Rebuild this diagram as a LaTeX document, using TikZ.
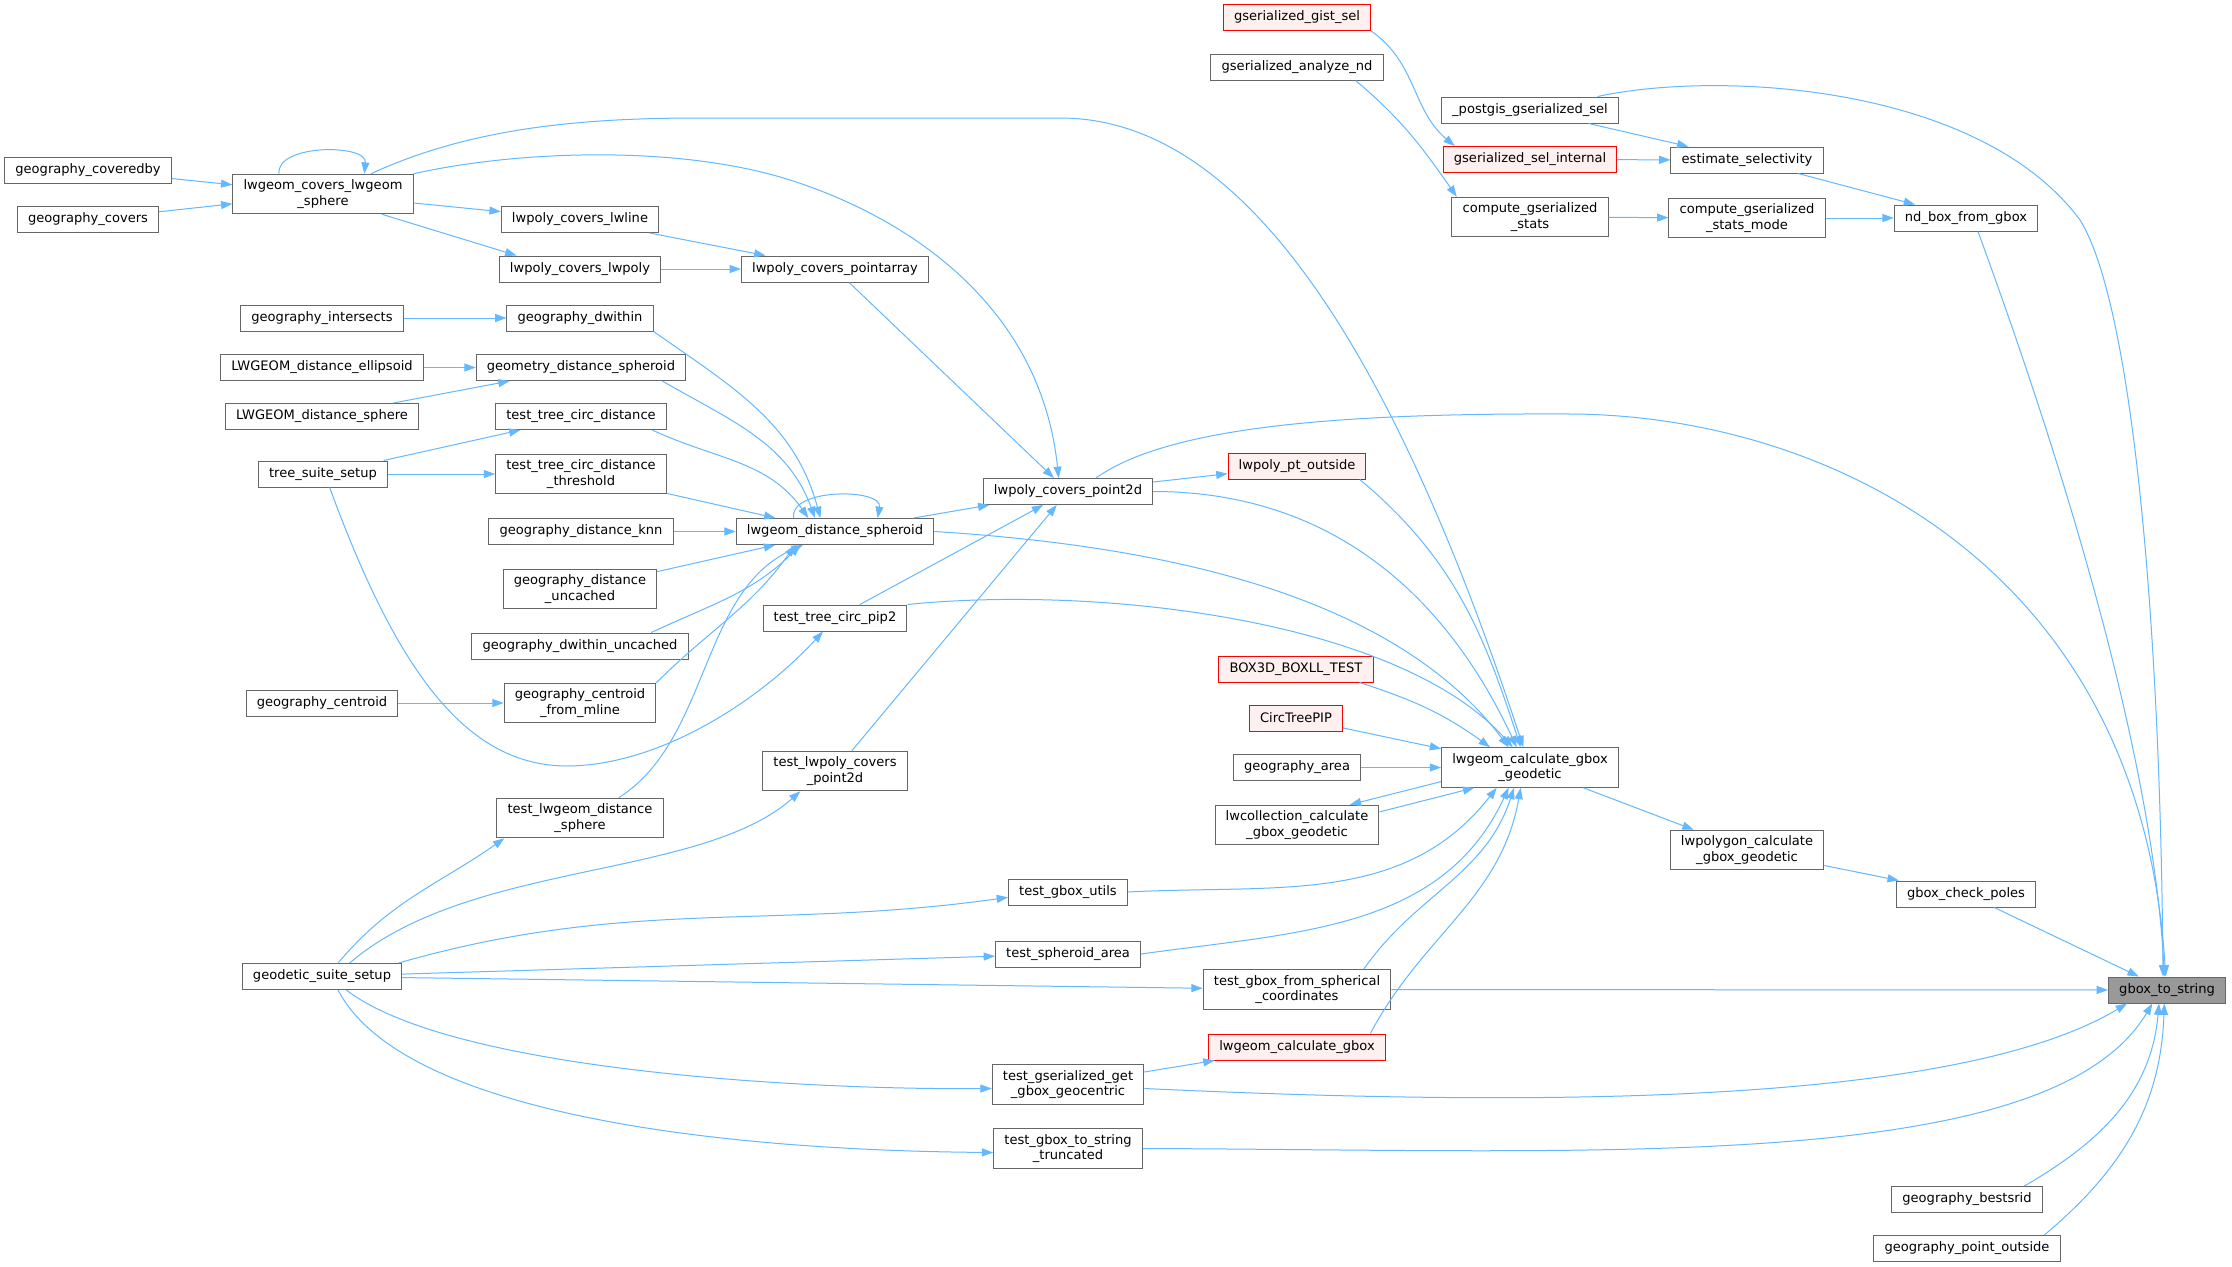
\documentclass[tikz,border=0pt]{standalone}
\usepackage{fontspec}
\setmainfont{DejaVu Sans}
\usepackage{xcolor}
\usepackage{tikz}
\usetikzlibrary{arrows.meta}

\definecolor{edgeblue}{HTML}{63B8FF}
\definecolor{boxgray}{HTML}{666666}
\definecolor{rootfill}{HTML}{999999}
\definecolor{redfill}{HTML}{FFF0F0}

\begin{document}
\begin{tikzpicture}[x=0.75pt, y=0.75pt,
		fn/.style={draw=boxgray, line width=0.75pt, fill=white, rectangle, align=center, inner xsep=8pt, inner ysep=4.2pt, minimum height=19.5pt, font=\fontsize{9.8}{11.5}\selectfont},
		fnred/.style={fn, draw=red, fill=redfill},
		fnroot/.style={fn, fill=rootfill},
		call/.style={draw=edgeblue, line width=0.75pt, -{Triangle[length=8.5pt, width=6pt]}}]
			\path[use as bounding box, fill=white] (0,0) rectangle (2232,-1267);

			\node[fnred] (gistsel) at (1297,-17.5) {gserialized\_gist\_sel};
			\node[fn] (analyzend) at (1297,-67) {gserialized\_analyze\_nd};
			\node[fn] (postgissel) at (1530,-110) {\_postgis\_gserialized\_sel};
			\node[fnred] (selinternal) at (1530,-159.5) {gserialized\_sel\_internal};
			\node[fn] (estsel) at (1747,-160) {estimate\_selectivity};
			\node[fn] (compstats) at (1530,-217) {compute\_gserialized\\\_stats};
			\node[fn] (compstatsmode) at (1747,-218) {compute\_gserialized\\\_stats\_mode};
			\node[fn] (ndbox) at (1966,-218) {nd\_box\_from\_gbox};

			\node[fn] (coveredby) at (88,-170) {geography\_coveredby};
			\node[fn] (covers) at (88,-219.5) {geography\_covers};
			\node[fn] (lwcovers) at (323,-194) {lwgeom\_covers\_lwgeom\\\_sphere};
			\node[fn] (covline) at (580,-219.5) {lwpoly\_covers\_lwline};
			\node[fn] (covpoly) at (580,-269) {lwpoly\_covers\_lwpoly};
			\node[fn] (covparr) at (835,-269) {lwpoly\_covers\_pointarray};
			\node[fn] (intersects) at (322,-318) {geography\_intersects};
			\node[fn] (gdwithin) at (580,-318) {geography\_dwithin};
			\node[fn] (distell) at (322,-367.5) {LWGEOM\_distance\_ellipsoid};
			\node[fn] (geomdist) at (581,-367.5) {geometry\_distance\_spheroid};
			\node[fn] (distsph) at (322,-416.5) {LWGEOM\_distance\_sphere};
			\node[fn] (ttcdist) at (581,-416.5) {test\_tree\_circ\_distance};
			\node[fn] (treesuite) at (323,-474) {tree\_suite\_setup};
			\node[fn] (ttcthr) at (581,-474) {test\_tree\_circ\_distance\\\_threshold};
			\node[fn] (gdknn) at (581,-531.5) {geography\_distance\_knn};
			\node[fn] (lwdist) at (835,-531.5) {lwgeom\_distance\_spheroid};
			\node[fn] (gduncached) at (580,-589) {geography\_distance\\\_uncached};
			\node[fn] (gdwuncached) at (580,-646) {geography\_dwithin\_uncached};
			\node[fn] (gcentroid) at (322,-703) {geography\_centroid};
			\node[fn] (gcmline) at (580,-703) {geography\_centroid\\\_from\_mline};
			\node[fn] (pip2) at (835,-618) {test\_tree\_circ\_pip2};
			\node[fn] (tlpcp2d) at (835,-771) {test\_lwpoly\_covers\\\_point2d};
			\node[fn] (tldsph) at (580,-818) {test\_lwgeom\_distance\\\_sphere};

			\node[fn] (covp2d) at (1068,-491.5) {lwpoly\_covers\_point2d};
			\node[fnred] (ptout) at (1297,-466) {lwpoly\_pt\_outside};
			\node[fnred] (box3d) at (1296,-669) {BOX3D\_BOXLL\_TEST};
			\node[fnred] (ctpip) at (1296,-718) {CircTreePIP};
			\node[fn] (garea) at (1297,-767.5) {geography\_area};
			\node[fn] (gbgeod) at (1530,-767.5) {lwgeom\_calculate\_gbox\\\_geodetic};
			\node[fn] (collgeod) at (1297,-825) {lwcollection\_calculate\\\_gbox\_geodetic};
			\node[fn] (polygeod) at (1747,-850) {lwpolygon\_calculate\\\_gbox\_geodetic};
			\node[fn] (poles) at (1966,-894) {gbox\_check\_poles};
			\node[fn] (tgbutils) at (1068,-892) {test\_gbox\_utils};
			\node[fn] (tsparea) at (1068,-954) {test\_spheroid\_area};
			\node[fn] (geodsuite) at (322,-976.5) {geodetic\_suite\_setup};
			\node[fn] (tgbsph) at (1297,-989.5) {test\_gbox\_from\_spherical\\\_coordinates};
			\node[fnroot] (gboxstr) at (2167,-990) {gbox\_to\_string};
			\node[fnred] (lwgbox) at (1297,-1047) {lwgeom\_calculate\_gbox};
			\node[fn] (tgsgeo) at (1068,-1084.5) {test\_gserialized\_get\\\_gbox\_geocentric};
			\node[fn] (tgbtrunc) at (1068,-1148.5) {test\_gbox\_to\_string\\\_truncated};
			\node[fn] (bestsrid) at (1967,-1199.5) {geography\_bestsrid};
			\node[fn] (ptoutside) at (1967,-1248.5) {geography\_point\_outside};

			\draw[call] (gistsel.south east) to[out=-35, in=140] ([xshift=9pt]selinternal.north west);
			\draw[call] ([xshift=-21pt]analyzend.south east) to[out=-40, in=125] ([xshift=4pt]compstats.north west);
			\draw[call] (postgissel) -- (estsel);
			\draw[call] (selinternal) -- (estsel);
			\draw[call] (estsel) -- (ndbox);
			\draw[call] (compstats) -- (compstatsmode);
			\draw[call] (compstatsmode) -- (ndbox);
			\draw[call] ([xshift=9pt]ndbox.south) .. controls (2010,-320) and (2150,-700) .. ([xshift=-2pt]gboxstr.north);
			\draw[call] ([xshift=-16pt]postgissel.north east) .. controls (1720,-70) and (1980,-85) .. (2080,-220) .. controls (2130,-300) and (2160,-600) .. ([xshift=-3pt]gboxstr.north);

			\draw[call] (coveredby) -- (lwcovers);
			\draw[call] (covers) -- (lwcovers);
			\draw[call] ([xshift=-33pt]lwcovers.north) .. controls +(-3,30) and +(3,30) .. ([xshift=31pt]lwcovers.north);
			\draw[call] (lwcovers) -- (covline);
			\draw[call] (lwcovers.-19) -- (covpoly.168);
			\draw[call] (covline) -- (covparr);
			\draw[call] (covpoly) -- (covparr);
			\draw[call] (covparr) -- (covp2d);
			\draw[call] (lwcovers.north east) .. controls (520,-150) and (680,-145) .. (790,-180) .. controls (900,-215) and (1040,-300) .. ([xshift=-7pt]covp2d.north);
			\draw[call] ([xshift=-32pt]lwcovers.north east) .. controls (470,-128) and (580,-118) .. (700,-118) -- (1060,-118) .. controls (1200,-118) and (1360,-250) .. ([xshift=-5pt]gbgeod.north);

			\draw[call] (intersects) -- (gdwithin);
			\draw[call] (gdwithin.south east) to[out=-35, in=105] ([xshift=-11pt]lwdist.north);
			\draw[call] (distell) -- (geomdist);
			\draw[call] (distsph) -- (geomdist);
			\draw[call] ([xshift=-18pt]geomdist.south east) to[out=-30, in=110] ([xshift=-15pt]lwdist.north);
			\draw[call] (treesuite) -- (ttcdist);
			\draw[call] (treesuite) -- (ttcthr);
			\draw[call] ([xshift=5pt]treesuite.south) .. controls (400,-680) and (470,-765) .. (566,-766) .. controls (660,-766) and (760,-700) .. ([xshift=-9pt]pip2.south);
			\draw[call] ([xshift=-11pt]ttcdist.south east) to[out=-25, in=125] ([xshift=-20pt]lwdist.north);
			\draw[call] (ttcthr) -- (lwdist);
			\draw[call] (gdknn) -- (lwdist);
			\draw[call] (gduncached) -- (lwdist);
			\draw[call] ([xshift=-28pt]gdwuncached.north east) to[out=25, in=-135] ([xshift=-26pt]lwdist.south);
			\draw[call] (gcmline.north east) to[out=45, in=-125] ([xshift=-30pt]lwdist.south);
			\draw[call] ([xshift=29pt]tldsph.north) .. controls (710,-740) and (700,-590) .. ([xshift=-24pt]lwdist.south);
			\draw[call] ([xshift=-31pt]lwdist.north) .. controls +(-5,30) and +(5,30) .. ([xshift=32pt]lwdist.north);
			\draw[call] (gcentroid) -- (gcmline);

			\draw[call] (lwdist) -- (covp2d);
			\draw[call] (lwdist.east) .. controls (1150,-545) and (1390,-590) .. ([xshift=-16pt]gbgeod.north);
			\draw[call] (pip2) -- (covp2d);
			\draw[call] (pip2.north east) .. controls (1100,-585) and (1400,-620) .. ([xshift=-13pt]gbgeod.north);
			\draw[call] (tlpcp2d) -- (covp2d);
			\draw[call] (covp2d) -- (ptout);
			\draw[call] ([xshift=-5pt]ptout.south east) to[out=-40, in=108] ([xshift=-7pt]gbgeod.north);
			\draw[call] (covp2d.east) to[out=0, in=115] ([xshift=-10pt]gbgeod.north);
			\draw[call] ([xshift=21pt]covp2d.north) .. controls (1170,-425) and (1350,-413) .. (1570,-414) .. controls (1820,-415) and (2140,-560) .. ([xshift=-1pt]gboxstr.north);

			\draw[call] (box3d.-12) to[out=-18, in=144] ([xshift=-30pt]gbgeod.north);
			\draw[call] (ctpip) -- (gbgeod);
			\draw[call] (garea) -- (gbgeod);
			\draw[call] (gbgeod.189) -- (collgeod.21);
			\draw[call] (collgeod.9) -- (gbgeod.200);
			\draw[call] (gbgeod) -- (polygeod);
			\draw[call] (polygeod) -- (poles);
			\draw[call] (poles) -- (gboxstr);
			\draw[call] (tgbutils.east) to[out=3, in=-128] ([xshift=-25pt]gbgeod.south);
			\draw[call] (tsparea.east) to[out=8, in=-115] ([xshift=-16pt]gbgeod.south);
			\draw[call] ([xshift=50pt]tgbsph.north) to[out=55, in=-108] ([xshift=-12pt]gbgeod.south);
			\draw[call] ([xshift=55pt]lwgbox.north) to[out=62, in=-100] ([xshift=-7pt]gbgeod.south);

			\draw[call] (tgsgeo) -- (lwgbox);
			\draw[call] (tgbsph) -- (gboxstr);
			\draw[call] ([yshift=-3pt]tgsgeo.east) .. controls (1500,-1105) and (1950,-1110) .. ([xshift=-30pt]gboxstr.south);
			\draw[call] (tgbtrunc.east) .. controls (1600,-1150) and (2050,-1175) .. ([xshift=-11pt]gboxstr.south);
			\draw[call] ([xshift=43pt]bestsrid.north) to[out=30, in=-95] ([xshift=-6pt]gboxstr.south);
			\draw[call] ([xshift=58pt]ptoutside.north) to[out=40, in=-92] ([xshift=-2pt]gboxstr.south);

			\draw[call] (geodsuite.40) to[out=50, in=-145] (tldsph.195);
			\draw[call] (geodsuite.26) .. controls (470,-860) and (700,-880) .. ([xshift=-26pt]tlpcp2d.south);
			\draw[call] (geodsuite.10) to[out=16, in=188] ([yshift=-4pt]tgbutils.west);
			\draw[call] (geodsuite) -- (tsparea);
			\draw[call] (geodsuite) -- (tgbsph);
			\draw[call] (geodsuite.-29) .. controls (450,-1070) and (800,-1090) .. ([yshift=-3pt]tgsgeo.west);
			\draw[call] (geodsuite.-40) .. controls (400,-1110) and (700,-1150) .. ([yshift=-3pt]tgbtrunc.west);
		\end{tikzpicture}
\end{document}
